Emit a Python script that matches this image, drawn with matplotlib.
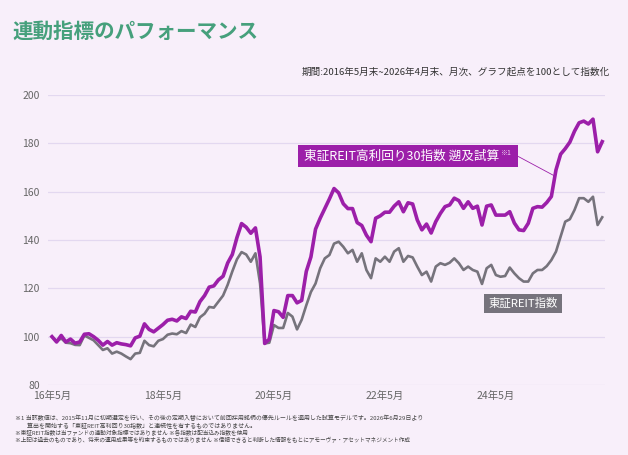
import matplotlib.pyplot as plt
import numpy as np
from matplotlib.patches import Rectangle

plt.rcParams['font.family'] = ['Noto Sans CJK JP', 'DejaVu Sans']

# monthly index values, 2016-05 .. 2026-04 (start = 100)
high_yield = [
    100, 97.8, 100.5, 97.8, 99, 97.3, 97.8, 101, 101.2, 100,
    98.5, 96.5, 98, 96.5, 97.5, 97, 96.7, 96.2, 99.5, 100.2,
    105.3, 103, 102, 103.5, 105, 106.8, 107.2, 106.5, 108.2, 107.5,
    110.5, 110.2, 114.5, 117, 120.5, 121, 123.5, 125, 130.5, 134,
    141, 146.8, 145.3, 142.8, 145, 133, 97.2, 99, 110.8, 110.3,
    108, 117, 117, 114, 115, 127, 133, 144.5, 149, 153,
    157, 161.3, 159.5, 155, 153, 153, 147.2, 146, 142, 139.3,
    149, 150, 151.5, 151.5, 154, 155.8, 151.7, 155.4, 154.9, 148.3,
    144.2, 146.6, 142.9, 147.6, 151, 153.8, 154.5, 157.3, 156.3, 153.1,
    155.8, 153.1, 154, 146.2, 154, 154.5, 150.3, 150.3, 150.3, 151.7,
    147, 144.2, 143.9, 146.9, 153.1, 153.8, 153.6, 155.5, 158, 169,
    175.5, 177.8, 180.5, 185, 188.5, 189.2, 188, 190, 176.5, 180.7,
]
reit = [
    100, 98, 99.3, 97.5, 97.3, 96.6, 96.5, 100.5, 99.5, 98.5,
    96.5, 94.5, 95.2, 93, 93.8, 93, 91.8, 90.7, 93, 93.3,
    98.3, 96.5, 96, 98.3, 99, 100.8, 101.3, 101, 102.3, 101.5,
    105, 104, 108, 109.5, 112.3, 112, 114.5, 117, 121.5, 127,
    132, 135, 134, 131, 134.5, 122, 97.2, 97.5, 104.8, 103.6,
    103.6, 109.8, 108.3, 103, 107, 113, 118.5, 122, 128.3, 132.4,
    133.8, 138.5, 139.3, 137.2, 134.5, 135.9, 131, 134.5, 127.6, 124.2,
    132.4, 131, 133.1, 131, 135.2, 136.6, 131, 133.4, 132.8, 129,
    125.5, 126.9, 122.8, 129, 130.4, 129.7, 130.6, 132.4, 130.4, 127.6,
    129, 127.6, 126.9, 121.8, 128.3, 129.7, 125.5, 124.8, 125.1, 128.6,
    126.2, 124.2, 122.8, 122.8, 126.2, 127.6, 127.6, 129.2, 131.7, 135.2,
    141.4, 147.6, 148.6, 152.4, 157.3, 157.3, 155.8, 157.9, 146.2, 149.4,
]
months = np.arange(len(high_yield))
xtick_pos = [0, 24, 48, 72, 96]
xtick_labels = ['16年5月', '18年5月', '20年5月', '22年5月', '24年5月']
yticks = [80, 100, 120, 140, 160, 180, 200]

bg = '#f8effa'
purple = '#9c1fa9'
gray = '#76737c'

fig = plt.figure(figsize=(6.28, 4.55), dpi=100, facecolor=bg)
ax = fig.add_axes([48 / 628, 1 - 385 / 455, 557 / 628, 290 / 455])
ax.set_facecolor(bg)

for y in yticks:
    ax.axhline(y, color='#e3d8f0', lw=0.9, zorder=0)

ax.plot(months, reit, color=gray, lw=1.9, zorder=3)
ax.plot(months, high_yield, color=purple, lw=2.6, zorder=4)

ax.set_xlim(-0.86, 119.6)
ax.set_ylim(80, 200)
ax.set_xticks(xtick_pos)
ax.set_xticklabels(xtick_labels)
ax.set_yticks(yticks)
ax.tick_params(axis='both', length=0, labelsize=7.5, colors='#666666')
ax.tick_params(axis='x', pad=4)
ax.tick_params(axis='y', pad=6)
for s in ax.spines.values():
    s.set_visible(False)

# series label boxes
ax.add_patch(Rectangle((53.2, 170.2), 47.6, 9.1, color=purple, zorder=5, lw=0))
lab = ax.text(54.4, 174.8, '東証REIT高利回り30指数 遡及試算', color='white', fontsize=9.1,
              va='center', ha='left', zorder=6)
ax.annotate('※1', xy=(1, 0.75), xycoords=lab, xytext=(1, 0), textcoords='offset points',
            color='#f0d8f2', fontsize=5, va='center', ha='left', zorder=6)
ax.plot([100.8, 108.8], [174.6, 166.4], color=purple, lw=0.6, zorder=5)

ax.add_patch(Rectangle((93.4, 109.8), 16.9, 7.8, color=gray, zorder=5, lw=0))
ax.text(101.85, 113.6, '東証REIT指数', color='white', fontsize=8.2,
        va='center', ha='center', zorder=6)

fig.text(12 / 628, 1 - 31 / 455, '連動指標のパフォーマンス', color='#46a07c',
         fontsize=14.8, fontweight='bold', va='center', ha='left')
fig.text(610 / 628, 1 - 72 / 455,
         '期間:2016年5月末~2026年4月末、月次、グラフ起点を100として指数化',
         color='#333333', fontsize=6.9, va='center', ha='right')

notes = [
    '※1 当該数値は、2015年11月に初期選定を行い、その後の定期入替において前回採用銘柄の優先ルールを適用した試算モデルです。2026年6月29日より',
    '　　算出を開始する「東証REIT高利回り30指数」と連続性を有するものではありません。',
    '※東証REIT指数は当ファンドの連動対象指標ではありません ※各指数は配当込み指数を使用',
    '※上記は過去のものであり、将来の運用成果等を約束するものではありません ※信頼できると判断した情報をもとにアモーヴァ・アセットマネジメント作成',
]
note_sizes = [4.3, 4.3, 4.1, 4.1]
for k, line in enumerate(notes):
    fig.text(15 / 628, 1 - (418 + 7.3 * k) / 455, line, color='#444444',
             fontsize=note_sizes[k], va='center', ha='left')

fig.savefig('out.png', dpi=100, facecolor=bg)
